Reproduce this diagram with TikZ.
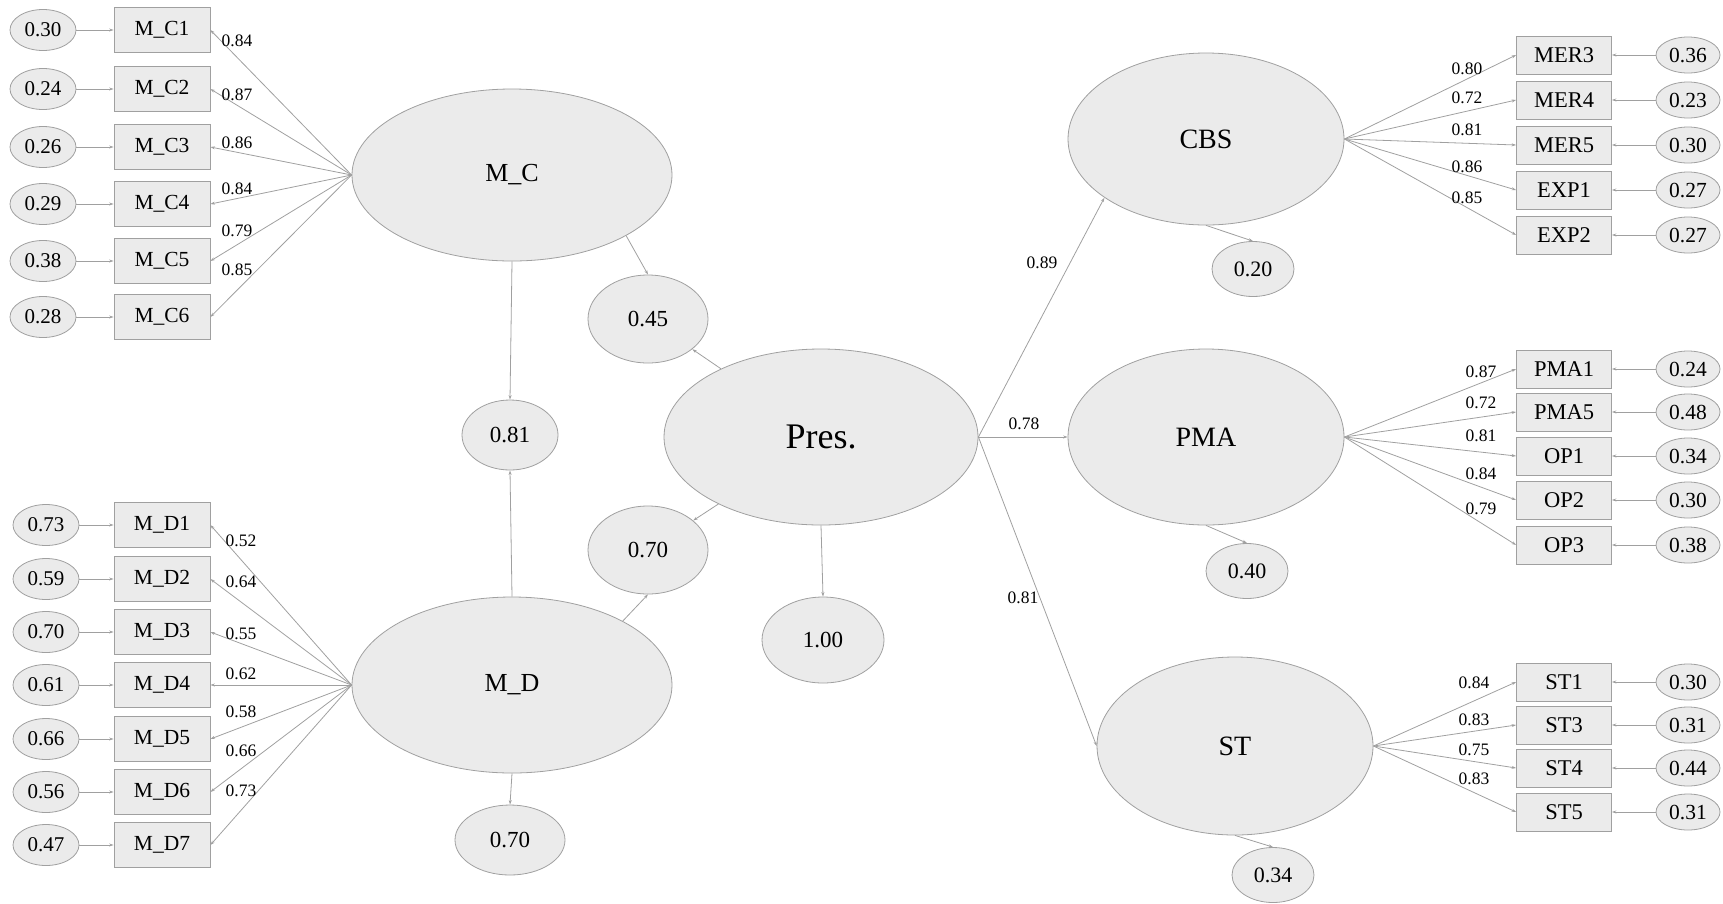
\documentclass[tikz,border=0pt]{standalone}
\usepackage{fontspec}
\setmainfont{Liberation Serif}
\usetikzlibrary{shapes.geometric,arrows.meta}
\definecolor{shade}{HTML}{EBEBEB}
\definecolor{rim}{HTML}{A0A0A0}
\newcommand{\fsz}[1]{\fontsize{#1}{#1}\selectfont}
\begin{document}
\begin{tikzpicture}[x=1pt,y=-1pt,
        lat/.style={ellipse,draw=rim,fill=shade,line width=0.8pt,inner sep=0pt},
        ind/.style={rectangle,draw=rim,fill=shade,line width=0.8pt,inner sep=0pt,minimum width=96pt,minimum height=45pt,font=\fsz{21.5}},
        err/.style={lat,minimum width=66pt,minimum height=41pt,font=\fsz{21}},
        indr/.style={ind,minimum width=95pt,minimum height=38pt,font=\fsz{22.5}},
        errr/.style={lat,minimum width=64pt,minimum height=36pt,font=\fsz{21.5}},
        res/.style={lat,minimum width=82pt,minimum height=55pt,font=\fsz{22}},
        lab/.style={font=\fsz{17.5}},
        path/.style={draw=rim,line width=0.8pt,-{Stealth[length=4.5pt,width=3pt]}}]
    \useasboundingbox (0,0) rectangle (1723,903);

    \node[lat,minimum width=320pt,minimum height=172pt,font=\fsz{26}] (mc) at (512,175) {M\_C};
    \node[lat,minimum width=320pt,minimum height=176pt,font=\fsz{26}] (md) at (512,685) {M\_D};
    \node[lat,minimum width=314pt,minimum height=176pt,font=\fsz{36}] (pres) at (821,437) {Pres.};
    \node[lat,minimum width=276pt,minimum height=172pt,font=\fsz{28}] (cbs) at (1206,139) {CBS};
    \node[lat,minimum width=276pt,minimum height=176pt,font=\fsz{28}] (pma) at (1206,437) {PMA};
    \node[lat,minimum width=276pt,minimum height=178pt,font=\fsz{28}] (st) at (1235,746) {ST};

    \node[lat,minimum width=120pt,minimum height=88pt,font=\fsz{23}] (e45) at (648,319) {0.45};
    \node[lat,minimum width=120pt,minimum height=88pt,font=\fsz{23}] (e70) at (648,550) {0.70};
    \node[lat,minimum width=122pt,minimum height=86pt,font=\fsz{23}] (e100) at (823,640) {1.00};
    \node[lat,minimum width=96pt,minimum height=70pt,font=\fsz{23}] (e81) at (510,435) {0.81};
    \node[lat,minimum width=110pt,minimum height=70pt,font=\fsz{23}] (e70b) at (510,840) {0.70};
    \node[res] (d20) at (1253,269) {0.20};
    \node[res] (d40) at (1247,571) {0.40};
    \node[res] (d34) at (1273,875) {0.34};

    \draw[path] (mc.332) -- (e45.north);
    \draw[path] (pres) -- (e45);
    \draw[path] (md.30) -- (e70.south);
    \draw[path] (pres) -- (e70);
    \draw[path] (pres.south) -- (e100.north);
    \draw[path] (mc.south) -- (e81.north);
    \draw[path] (md.north) -- (e81.south);
    \draw[path] (md.south) -- (e70b.north);
    \draw[path] (cbs.south) -- (d20.north);
    \draw[path] (pma.south) -- (d40.north);
    \draw[path] (st.south) -- (d34.north);

    \draw[path] (pres.east) -- (cbs.210);
    \draw[path] (pres.east) -- (pma.west);
    \draw[path] (pres.east) -- (st.west);
    \node[lab] (l89) at (1042,263) {0.89};
    \node[lab] (l78) at (1024,424) {0.78};
    \node[lab] (l81) at (1023,598) {0.81};

    \foreach \i/\y/\e/\w/\ly in {1/30/0.30/0.84/41, 2/89/0.24/0.87/95, 3/147/0.26/0.86/143, 4/204/0.29/0.84/189, 5/261/0.38/0.79/231, 6/317/0.28/0.85/270}{
        \node[err] (ec\i) at (43,\y) {\e};
        \node[ind] (c\i) at (162,\y) {M\_C\i};
        \draw[path] (ec\i) -- (c\i);
        \draw[path] (mc.west) -- (c\i.east);
        \node[lab] (lc\i) at (237,\ly) {\w};
    }

    \foreach \i/\y/\e/\w/\ly in {1/525/0.73/0.52/541, 2/579/0.59/0.64/582, 3/632/0.70/0.55/634, 4/685/0.61/0.62/674, 5/739/0.66/0.58/712, 6/792/0.56/0.66/751, 7/845/0.47/0.73/791}{
        \node[err] (ed\i) at (46,\y) {\e};
        \node[ind] (d\i) at (162,\y) {M\_D\i};
        \draw[path] (ed\i) -- (d\i);
        \draw[path] (md.west) -- (d\i.east);
        \node[lab] (ld\i) at (241,\ly) {\w};
    }

    \foreach \n/\y/\e/\w/\ly in {MER3/55/0.36/0.80/69, MER4/100/0.23/0.72/98, MER5/145/0.30/0.81/130, EXP1/190/0.27/0.86/167, EXP2/235/0.27/0.85/198}{
        \node[indr] (\n) at (1564,\y) {\n};
        \node[errr] (e\n) at (1688,\y) {\e};
        \draw[path] (e\n) -- (\n);
        \draw[path] (cbs.east) -- (\n.west);
        \node[lab] (l\n) at (1467,\ly) {\w};
    }

    \foreach \n/\y/\e/\w/\ly in {PMA1/369/0.24/0.87/372, PMA5/412/0.48/0.72/403, OP1/456/0.34/0.81/436, OP2/500/0.30/0.84/474, OP3/545/0.38/0.79/509}{
        \node[indr] (\n) at (1564,\y) {\n};
        \node[errr] (e\n) at (1688,\y) {\e};
        \draw[path] (e\n) -- (\n);
        \draw[path] (pma.east) -- (\n.west);
        \node[lab] (l\n) at (1481,\ly) {\w};
    }

    \foreach \n/\y/\e/\w/\ly in {ST1/682/0.30/0.84/683, ST3/725/0.31/0.83/720, ST4/768/0.44/0.75/750, ST5/812/0.31/0.83/779}{
        \node[indr] (\n) at (1564,\y) {\n};
        \node[errr] (e\n) at (1688,\y) {\e};
        \draw[path] (e\n) -- (\n);
        \draw[path] (st.east) -- (\n.west);
        \node[lab] (l\n) at (1474,\ly) {\w};
    }
\end{tikzpicture}
\end{document}
